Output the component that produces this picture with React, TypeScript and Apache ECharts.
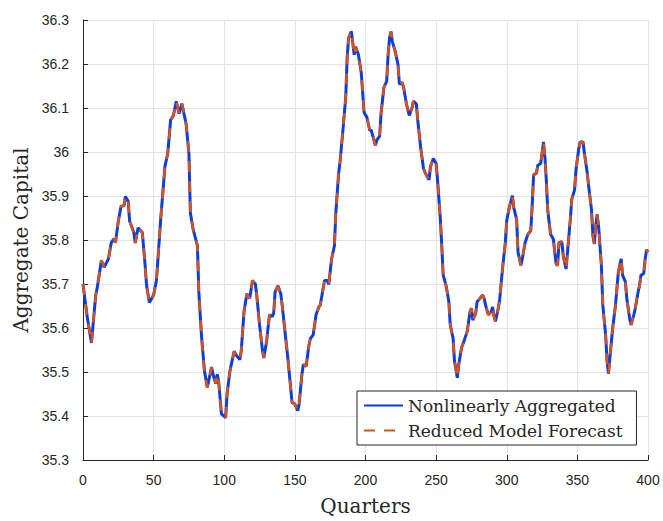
import React, { useEffect, useRef } from "react";
import * as echarts from "echarts";

const quarters = [
  0, 3, 6, 9, 10, 13, 15, 18, 20, 22, 23, 25, 27, 29, 30, 32, 33, 36, 37, 39,
  42, 44, 45, 47, 50, 52, 55, 58, 60, 62, 64, 66, 68, 70, 73, 75, 76, 78, 81, 82,
  84, 86, 88, 89, 91, 92, 94, 95, 96, 98, 101, 102, 104, 107, 109, 111, 112, 114, 116, 118,
  120, 122, 123, 125, 127, 128, 130, 132, 134, 135, 136, 138, 140, 141, 143, 145, 147, 148, 150, 152,
  153, 155, 156, 158, 160, 161, 163, 165, 167, 168, 170, 171, 173, 174, 176, 178, 179, 181, 182, 184,
  186, 187, 188, 190, 191, 192, 193, 195, 197, 199, 201, 203, 204, 206, 207, 208, 210, 211, 213, 215,
  216, 217, 218, 219, 221, 223, 224, 226, 227, 229, 231, 233, 234, 236, 237, 239, 241, 242, 243, 245,
  246, 248, 250, 251, 253, 254, 255, 257, 259, 260, 262, 263, 265, 266, 268, 270, 272, 274, 275, 276,
  278, 279, 280, 282, 283, 284, 285, 287, 289, 290, 291, 292, 294, 295, 297, 299, 300, 302, 304, 305,
  307, 308, 310, 311, 313, 315, 317, 318, 319, 321, 322, 324, 325, 326, 327, 328, 329, 331, 333, 334,
  335, 336, 337, 339, 340, 342, 343, 345, 346, 348, 349, 351, 352, 354, 355, 357, 358, 360, 361, 362,
  363, 364, 365, 367, 368, 370, 371, 372, 373, 375, 377, 378, 379, 381, 382, 384, 385, 387, 388, 390,
  391, 393, 394, 395, 397, 398, 399, 400,
];

const aggregatedCapital = [
  35.700, 35.625, 35.566, 35.675, 35.690, 35.753, 35.738, 35.757, 35.794, 35.803, 35.794, 35.843, 35.877, 35.878, 35.899, 35.888, 35.843, 35.817, 35.793, 35.828,
  35.817, 35.742, 35.697, 35.658, 35.675, 35.708, 35.847, 35.967, 35.997, 36.072, 36.083, 36.115, 36.087, 36.110, 36.064, 35.997, 35.862, 35.824, 35.787, 35.682,
  35.577, 35.502, 35.465, 35.480, 35.511, 35.495, 35.474, 35.495, 35.480, 35.405, 35.396, 35.450, 35.502, 35.547, 35.536, 35.528, 35.547, 35.637, 35.678, 35.667,
  35.708, 35.700, 35.675, 35.607, 35.551, 35.532, 35.570, 35.630, 35.626, 35.633, 35.682, 35.696, 35.678, 35.652, 35.592, 35.532, 35.465, 35.431, 35.427, 35.412,
  35.427, 35.495, 35.517, 35.513, 35.562, 35.576, 35.585, 35.630, 35.648, 35.652, 35.690, 35.708, 35.708, 35.699, 35.757, 35.787, 35.862, 35.952, 35.978, 36.049,
  36.124, 36.214, 36.259, 36.274, 36.248, 36.221, 36.240, 36.221, 36.180, 36.090, 36.079, 36.049, 36.050, 36.027, 36.015, 36.027, 36.036, 36.087, 36.146, 36.161,
  36.221, 36.259, 36.274, 36.251, 36.229, 36.199, 36.154, 36.158, 36.146, 36.109, 36.083, 36.101, 36.116, 36.109, 36.072, 36.012, 35.963, 35.955, 35.948, 35.937,
  35.967, 35.985, 35.974, 35.937, 35.847, 35.787, 35.720, 35.697, 35.660, 35.607, 35.577, 35.525, 35.487, 35.517, 35.555, 35.573, 35.592, 35.637, 35.645, 35.618,
  35.633, 35.660, 35.663, 35.671, 35.675, 35.667, 35.652, 35.630, 35.637, 35.648, 35.626, 35.615, 35.645, 35.665, 35.735, 35.794, 35.845, 35.877, 35.901, 35.873,
  35.847, 35.772, 35.742, 35.757, 35.794, 35.813, 35.821, 35.877, 35.948, 35.952, 35.970, 35.974, 35.997, 36.023, 35.989, 35.937, 35.869, 35.813, 35.802, 35.772,
  35.745, 35.742, 35.794, 35.796, 35.764, 35.734, 35.772, 35.847, 35.892, 35.914, 35.959, 36.008, 36.023, 36.023, 35.997, 35.952, 35.922, 35.869, 35.809, 35.791,
  35.832, 35.858, 35.832, 35.742, 35.652, 35.585, 35.525, 35.496, 35.532, 35.600, 35.652, 35.690, 35.727, 35.757, 35.720, 35.705, 35.667, 35.622, 35.607, 35.630,
  35.645, 35.682, 35.697, 35.720, 35.724, 35.757, 35.778, 35.772,
];

// The reduced-model forecast is visually indistinguishable from the aggregated series.
const forecastCapital = aggregatedCapital;

const seriesNames = ["Nonlinearly Aggregated", "Reduced Model Forecast"];

const xTicks = { min: 0, max: 400, interval: 50 };
const yTicks = { min: 35.3, max: 36.3, interval: 0.1 };

export default function App() {
  const ref = useRef<HTMLDivElement>(null);

  useEffect(() => {
    if (!ref.current) return;
    const chart = echarts.init(ref.current, undefined, { renderer: "svg" });
    const axisColor = "#262626";
    const gridColor = "#e3e3e3";
    const tickFont = "'Liberation Sans', Arial, sans-serif";
    const serif = "'DejaVu Serif', serif";

    chart.setOption({
      animation: false,
      backgroundColor: "#ffffff",
      grid: { left: 83, right: 15, top: 20, bottom: 56, containLabel: false },
      legend: {
        data: seriesNames,
        orient: "vertical",
        left: 357,
        top: 391,
        padding: [4, 14, 4, 6],
        itemWidth: 39,
        itemHeight: 14,
        itemGap: 4,
        backgroundColor: "#ffffff",
        borderColor: axisColor,
        borderWidth: 1,
        borderRadius: 0,
        itemStyle: { opacity: 0, borderWidth: 0 },
        textStyle: {
          fontFamily: serif,
          fontSize: 17,
          color: "#262626",
          lineHeight: 21,
        },
      },
      xAxis: {
        type: "value",
        min: xTicks.min,
        max: xTicks.max,
        interval: xTicks.interval,
        name: "Quarters",
        nameLocation: "middle",
        nameGap: 36,
        nameTextStyle: { fontFamily: serif, fontSize: 20, color: "#262626" },
        axisLine: { show: true, onZero: false, lineStyle: { color: axisColor, width: 1 } },
        axisTick: { show: true, inside: true, length: 5, lineStyle: { color: axisColor } },
        axisLabel: { margin: 13, fontFamily: tickFont, fontSize: 14, color: axisColor },
        splitLine: { show: true, lineStyle: { color: gridColor, width: 1 } },
      },
      yAxis: {
        type: "value",
        min: yTicks.min,
        max: yTicks.max,
        interval: yTicks.interval,
        name: "Aggregate Capital",
        nameLocation: "middle",
        nameGap: 51,
        nameTextStyle: { fontFamily: serif, fontSize: 20, color: "#262626" },
        axisLine: { show: true, onZero: false, lineStyle: { color: axisColor, width: 1 } },
        axisTick: { show: true, inside: true, length: 5, lineStyle: { color: axisColor } },
        axisLabel: {
          margin: 14,
          fontFamily: tickFont,
          fontSize: 14,
          color: axisColor,
          formatter: (v: number) => String(Math.round(v * 10) / 10),
        },
        splitLine: { show: true, lineStyle: { color: gridColor, width: 1 } },
      },
      series: [
        {
          name: seriesNames[0],
          type: "line",
          data: quarters.map((q, i) => [q, aggregatedCapital[i]]),
          showSymbol: false,
          symbol: "none",
          lineStyle: { color: "#0b3fd9", width: 3 },
          itemStyle: { color: "#0b3fd9" },
        },
        {
          name: seriesNames[1],
          type: "line",
          data: quarters.map((q, i) => [q, forecastCapital[i]]),
          showSymbol: false,
          symbol: "none",
          lineStyle: { color: "#d95319", width: 2.5, type: [11, 9] },
          itemStyle: { color: "#d95319" },
        },
      ],
    });

    return () => chart.dispose();
  }, []);

  return (
    <div
      ref={ref}
      style={{ position: "fixed", left: 0, top: 0, width: 663, height: 521, background: "#fff" }}
    />
  );
}
